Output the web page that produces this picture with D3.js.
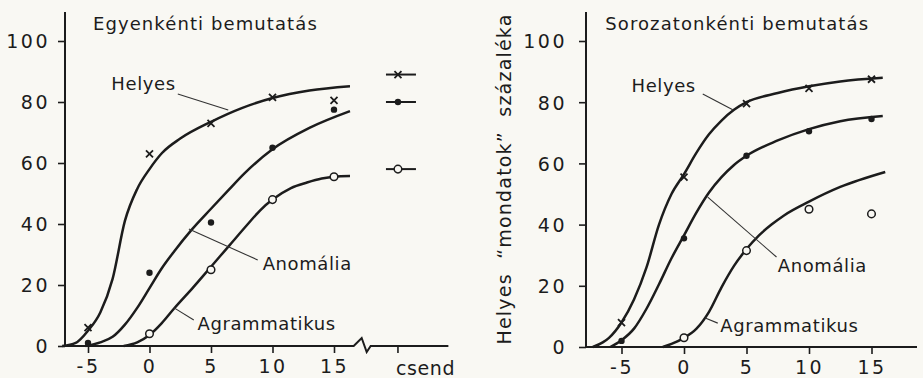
<!DOCTYPE html>
<html>
<head>
<meta charset="utf-8">
<script src="https://cdn.jsdelivr.net/npm/d3@7"></script>
<style>
  html, body { margin: 0; padding: 0; background: #f9f8f3; }
  svg { display: block; }
  text { font-family: "DejaVu Sans", sans-serif; fill: #1c1c1c; }
</style>
</head>
<body>
<div id="chart"></div>
<script>
// stimulus levels (x) and y ticks
const xTicks = [-5, 0, 5, 10, 15];
const yTicks = [0, 20, 40, 60, 80, 100];
const xLevels = [-5, 0, 5, 10, 15];

// Egyenkénti bemutatás (left) - measured points
const egyHelyes = [6, 63, 73, 81.5, 80.5];
const egyAnomalia = [1, 24, 40.5, 65, 77.5];
const egyAgram = [null, 4, 25, 48, 55.5];
// csend (silence) condition, left panel only
const csendHelyes = 89;
const csendAnomalia = 80;
const csendAgram = 58;

// Sorozatonkénti bemutatás (right) - measured points
const sorHelyes = [8, 55.5, 79.5, 84.5, 87.5];
const sorAnomalia = [2, 35.5, 62.5, 70.5, 74.5];
const sorAgram = [null, 3, 31.5, 45, 43.5];

// fitted curves as [x, y]
const egyHelyesCurve = [[-7.1, 0], [-6, 1], [-5, 5], [-4, 11], [-3, 22], [-2, 41], [-1, 51.5], [0, 58], [1, 63.2], [2.5, 68], [5, 73.5], [7.5, 78], [10, 81.3], [13, 83.8], [16.3, 85.2]];
const egyAnomaliaCurve = [[-5.2, 0], [-4, 1.2], [-3, 3], [-2, 7], [-1, 12.5], [0, 19], [1, 25.5], [2, 31], [3.4, 38], [5, 45], [6.4, 51], [7.7, 56.5], [10, 64.5], [13, 71.5], [16.3, 77]];
const egyAgramCurve = [[-2.1, 0], [-1, 1.2], [0, 3.6], [1, 7.5], [2, 12.3], [3.5, 19], [5, 26], [6.5, 33], [8, 40], [9, 44.5], [10, 48], [11.5, 51.8], [12.8, 53.6], [14, 54.9], [15, 55.5], [16.3, 55.7]];

const sorHelyesCurve = [[-7.3, 0], [-6.5, 1.5], [-6, 3], [-5, 8], [-4, 15.5], [-3, 26], [-2, 40], [-1, 50], [0, 56.5], [1, 63.5], [2, 69.5], [3, 74], [4, 77.5], [5, 80], [7.5, 83], [10, 85.2], [12.5, 86.8], [15.9, 88]];
const sorAnomaliaCurve = [[-5.9, 0], [-5, 2.2], [-4, 6], [-3, 12.5], [-2, 20.5], [-1, 29], [0, 36.5], [1, 44], [2, 50.5], [3, 55.5], [4, 59.5], [5, 62.5], [7.5, 67.5], [10, 71.2], [12.5, 73.8], [15.9, 75.5]];
const sorAgramCurve = [[-1.7, 0], [-1, 1], [0, 3], [1, 6], [2, 11.5], [3, 19.5], [4, 26.5], [5, 32], [6, 36.5], [7, 40], [8, 43], [10, 47.5], [12.5, 52.3], [16.1, 57.2]];

const W = 923, H = 378;
const ink = '#1c1c1c';
const paper = '#f9f8f3';

const svg = d3.select('#chart').append('svg')
    .attr('width', W)
    .attr('height', H);

function drawPanel(cfg) {
    const x = d3.scaleLinear().domain([-5, 15]).range(cfg.xRange);
    const y = d3.scaleLinear().domain([0, 100]).range(cfg.yRange);
    const g = svg.append('g');

    // y axis
    const yAxis = d3.axisLeft(y).tickValues(yTicks).tickSize(7).tickPadding(cfg.yPad)
        .tickFormat(d => d);
    const ya = g.append('g').attr('transform', `translate(${cfg.axisX},0)`).call(yAxis);
    ya.select('.domain').remove();
    ya.selectAll('line').attr('stroke', ink).attr('stroke-width', 1.6);
    ya.selectAll('text').attr('font-size', 19).attr('letter-spacing', 2.5).attr('dy', '0.36em')
        .attr('fill', ink).attr('font-family', '"DejaVu Sans", sans-serif');
    g.append('line')
        .attr('x1', cfg.axisX).attr('x2', cfg.axisX)
        .attr('y1', y(100) - 29).attr('y2', y(0))
        .attr('stroke', ink).attr('stroke-width', 2);

    // x axis
    const xAxis = d3.axisBottom(x).tickValues(xTicks).tickSize(7).tickPadding(7)
        .tickFormat(d => d < 0 ? '-' + Math.abs(d) : d);
    const xa = g.append('g').attr('transform', `translate(0,${y(0)})`).call(xAxis);
    xa.select('.domain').remove();
    xa.selectAll('line').attr('stroke', ink).attr('stroke-width', 1.6);
    xa.selectAll('text').attr('font-size', 19).attr('letter-spacing', 2.5)
        .attr('fill', ink).attr('font-family', '"DejaVu Sans", sans-serif');

    if (cfg.csend) {
        const b = x(cfg.breakAt), y0 = y(0);
        g.append('path')
            .attr('d', `M${cfg.axisX},${y0}H${b}L${b + 8},${y0 - 8}L${b + 13},${y0 + 6}L${b + 17},${y0}H${x(cfg.xEnd)}`)
            .attr('fill', 'none').attr('stroke', ink).attr('stroke-width', 2);
        g.append('line')
            .attr('x1', x(cfg.csendAt)).attr('x2', x(cfg.csendAt))
            .attr('y1', y0).attr('y2', y0 + 7)
            .attr('stroke', ink).attr('stroke-width', 1.6);
        g.append('text')
            .attr('x', x(cfg.csendAt) - 2).attr('y', y0 + 29)
            .attr('font-size', 19).attr('letter-spacing', 0.6)
            .text('csend');
    } else {
        g.append('line')
            .attr('x1', cfg.axisX).attr('x2', x(cfg.xEnd))
            .attr('y1', y(0)).attr('y2', y(0))
            .attr('stroke', ink).attr('stroke-width', 2);
    }

    // curves
    const line = d3.line()
        .x(d => x(d[0])).y(d => y(d[1]))
        .curve(d3.curveMonotoneX);
    g.selectAll('path.curve')
        .data(cfg.curves)
        .enter().append('path')
        .attr('class', 'curve')
        .attr('d', line)
        .attr('fill', 'none')
        .attr('stroke', ink)
        .attr('stroke-width', 2.5);

    // markers
    const pts = (vals) => xLevels.map((v, i) => [v, vals[i]]).filter(d => d[1] !== null);
    const crossPath = (px, py, r) => `M${px - r},${py - r}L${px + r},${py + r}M${px - r},${py + r}L${px + r},${py - r}`;
    g.selectAll('path.cross')
        .data(pts(cfg.helyes))
        .enter().append('path')
        .attr('class', 'cross')
        .attr('d', d => crossPath(x(d[0]), y(d[1]), 3.5))
        .attr('stroke', ink).attr('stroke-width', 1.8);
    g.selectAll('circle.dot')
        .data(pts(cfg.anomalia))
        .enter().append('circle')
        .attr('class', 'dot')
        .attr('cx', d => x(d[0])).attr('cy', d => y(d[1]))
        .attr('r', 3.2).attr('fill', ink);
    g.selectAll('circle.ring')
        .data(pts(cfg.agram))
        .enter().append('circle')
        .attr('class', 'ring')
        .attr('cx', d => x(d[0])).attr('cy', d => y(d[1]))
        .attr('r', 3.8).attr('fill', paper)
        .attr('stroke', ink).attr('stroke-width', 1.5);

    // csend markers with short bars
    if (cfg.csend) {
        const cx = x(cfg.csendAt);
        const cs = cfg.csend;
        cs.forEach((c) => {
            g.append('line')
                .attr('x1', cx - 12).attr('x2', cx + 18)
                .attr('y1', y(c.v)).attr('y2', y(c.v))
                .attr('stroke', ink).attr('stroke-width', 2);
        });
        g.append('path').attr('d', crossPath(cx, y(cs[0].v), 3.5))
            .attr('stroke', ink).attr('stroke-width', 1.8);
        g.append('circle').attr('cx', cx).attr('cy', y(cs[1].v)).attr('r', 3.2).attr('fill', ink);
        g.append('circle').attr('cx', cx).attr('cy', y(cs[2].v)).attr('r', 3.8)
            .attr('fill', paper).attr('stroke', ink).attr('stroke-width', 1.5);
    }

    // title
    g.append('text')
        .attr('x', x(cfg.title.x)).attr('y', y(cfg.title.y))
        .attr('font-size', 18).attr('letter-spacing', 1.1)
        .text(cfg.title.text);

    // labels with leader lines
    cfg.labels.forEach(l => {
        g.append('line')
            .attr('x1', x(l.from[0])).attr('y1', y(l.from[1]))
            .attr('x2', x(l.to[0])).attr('y2', y(l.to[1]))
            .attr('stroke', '#333').attr('stroke-width', 1.1);
        g.append('text')
            .attr('x', x(l.at[0])).attr('y', y(l.at[1]))
            .attr('font-size', 18).attr('letter-spacing', 0.6)
            .text(l.text);
    });
}

drawPanel({
    xRange: [88, 334],
    yRange: [346, 41],
    axisX: 65,
    yPad: 8,
    breakAt: 16.6,
    csendAt: 20.2,
    xEnd: 24.3,
    helyes: egyHelyes,
    anomalia: egyAnomalia,
    agram: egyAgram,
    csend: [{v: csendHelyes}, {v: csendAnomalia}, {v: csendAgram}],
    curves: [egyHelyesCurve, egyAnomaliaCurve, egyAgramCurve],
    title: {text: 'Egyenkénti bemutatás', x: -4.6, y: 103.6},
    labels: [
        {text: 'Helyes', at: [-3.1, 84], from: [2.3, 82.6], to: [6.4, 77.4]},
        {text: 'Anomália', at: [9.2, 24.9], from: [8.8, 28.2], to: [3.2, 38.4]},
        {text: 'Agrammatikus', at: [3.9, 5.2], from: [3.6, 8.5], to: [2.0, 12.5]}
    ]
});

drawPanel({
    xRange: [621.5, 871.5],
    yRange: [347, 41],
    axisX: 586,
    yPad: 12,
    xEnd: 18.64,
    helyes: sorHelyes,
    anomalia: sorAnomalia,
    agram: sorAgram,
    curves: [sorHelyesCurve, sorAnomaliaCurve, sorAgramCurve],
    title: {text: 'Sorozatonkénti bemutatás', x: -6.3, y: 103.6},
    labels: [
        {text: 'Helyes', at: [-4.2, 83.3], from: [1.5, 82.7], to: [3.9, 77.5]},
        {text: 'Anomália', at: [7.5, 24.5], from: [7.4, 29.4], to: [1.9, 49]},
        {text: 'Agrammatikus', at: [2.9, 4.9], from: [2.7, 7.8], to: [1.7, 9.5]}
    ]
});

// shared y-axis title
svg.append('text')
    .attr('transform', 'translate(511,179) rotate(-90)')
    .attr('text-anchor', 'middle')
    .attr('font-size', 19)
    .attr('letter-spacing', 1.2)
    .attr('xml:space', 'preserve')
    .style('white-space', 'pre')
    .text('Helyes  “mondatok”  százaléka');
</script>
</body>
</html>
